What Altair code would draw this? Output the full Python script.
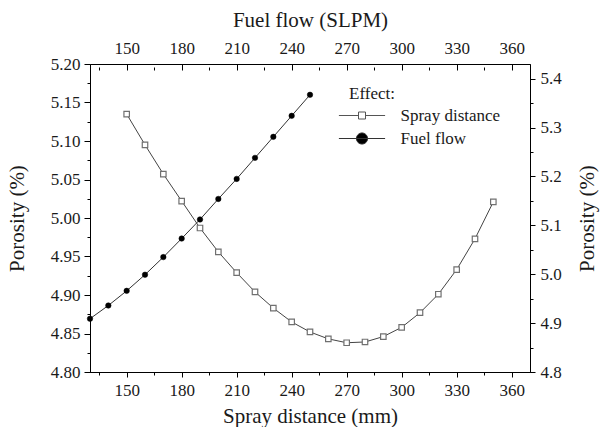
import altair as alt
import pandas as pd

# ---- data ----
spray_distance = [150, 160, 170, 180, 190, 200, 210, 220, 230, 240, 250,
                  260, 270, 280, 290, 300, 310, 320, 330, 340, 350]
spray_porosity = [5.135, 5.095, 5.057, 5.022, 4.987, 4.956, 4.929, 4.904,
                  4.883, 4.865, 4.852, 4.843, 4.838, 4.839, 4.846, 4.858,
                  4.877, 4.901, 4.933, 4.973, 5.021]

fuel_flow = [130, 140, 150, 160, 170, 180, 190, 200, 210, 220, 230, 240, 250]
fuel_porosity = [4.909, 4.936, 4.966, 4.999, 5.035, 5.073, 5.112, 5.154,
                 5.195, 5.238, 5.281, 5.324, 5.367]

series_names = ["Spray distance", "Fuel flow"]

x_ticks = [135, 150, 165, 180, 195, 210, 225, 240, 255, 270, 285, 300,
           315, 330, 345, 360]
left_ticks = [4.800, 4.825, 4.850, 4.875, 4.900, 4.925, 4.950, 4.975, 5.000,
              5.025, 5.050, 5.075, 5.100, 5.125, 5.150, 5.175, 5.200]
right_ticks = [4.80, 4.85, 4.90, 4.95, 5.00, 5.05, 5.10, 5.15, 5.20, 5.25,
               5.30, 5.35, 5.40]

spray_df = pd.DataFrame({"distance": spray_distance, "porosity": spray_porosity})
fuel_df = pd.DataFrame({"flow": fuel_flow, "porosity": fuel_porosity})
legend_df = pd.DataFrame({"series": series_names})

FONT = "Liberation Serif"
TXT = "#1a1a1a"

x_major = "datum.value % 30 === 0"
left_major = "abs(datum.value*20 - round(datum.value*20)) < 0.001"
right_major = "abs(datum.value*10 - round(datum.value*10)) < 0.001"

common_axis = dict(
    grid=False, labelFont=FONT, titleFont=FONT, labelFontSize=17,
    titleFontSize=21, titleFontWeight="normal", labelColor=TXT,
    titleColor=TXT, domainColor="black", tickColor="black",
    domainWidth=1, tickWidth=1,
)

x_bottom = alt.X(
    "distance:Q",
    scale=alt.Scale(domain=[130, 370], nice=False, zero=False),
    axis=alt.Axis(
        orient="bottom", values=x_ticks, title="Spray distance (mm)",
        labelExpr=f"{x_major} ? datum.label : ''",
        tickSize={"condition": {"test": x_major, "value": 5}, "value": 3},
        labelPadding=5, titlePadding=7, **common_axis,
    ),
)
y_left = alt.Y(
    "porosity:Q",
    scale=alt.Scale(domain=[4.8, 5.2], nice=False, zero=False),
    axis=alt.Axis(
        orient="left", values=left_ticks, title="Porosity (%)",
        labelExpr=f"{left_major} ? format(datum.value, '.2f') : ''",
        tickSize={"condition": {"test": left_major, "value": 6}, "value": 3},
        labelPadding=4, titlePadding=23, **common_axis,
    ),
)

x_top = alt.X(
    "flow:Q",
    scale=alt.Scale(domain=[130, 370], nice=False, zero=False),
    axis=alt.Axis(
        orient="top", values=x_ticks, title="Fuel flow (SLPM)", offset=-6,
        domain=False,
        labelExpr=f"{x_major} ? datum.label : ''",
        tickSize={"condition": {"test": x_major, "value": 6}, "value": 3},
        labelPadding=7, titlePadding=9, **common_axis,
    ),
)
y_right = alt.Y(
    "porosity:Q",
    scale=alt.Scale(domain=[4.8, 5.43], nice=False, zero=False),
    axis=alt.Axis(
        orient="right", values=right_ticks, title="Porosity (%)",
        titleAngle=270,
        labelExpr=f"{right_major} ? format(datum.value, '.1f') : ''",
        tickSize={"condition": {"test": right_major, "value": 5}, "value": 3},
        labelPadding=5, titlePadding=36, **common_axis,
    ),
)

spray_line = alt.Chart(spray_df).mark_line(color="#444", strokeWidth=1).encode(
    x=x_bottom, y=y_left)
spray_pts = alt.Chart(spray_df).mark_point(
    shape="square", size=30, filled=True, fill="white", stroke="#707070",
    strokeWidth=1.2, opacity=1).encode(x=x_bottom, y=y_left)
spray_layer = alt.layer(spray_line, spray_pts)

fuel_line = alt.Chart(fuel_df).mark_line(color="#333", strokeWidth=1).encode(
    x=x_top, y=y_right)
fuel_pts = alt.Chart(fuel_df).mark_point(
    shape="circle", size=30, filled=True, fill="black", stroke="black",
    strokeWidth=0.5, opacity=1).encode(x=x_top, y=y_right)
fuel_layer = alt.layer(fuel_line, fuel_pts)

# legend-only layer (no rows drawn), symbols are line + marker paths
sq_path = "M-6.6,0H-1M1,0H6.6M-1,-1H1V1H-1Z"
k = 0.884
ci_path = (f"M-6.6,0H6.6M-1.6,0C-1.6,-{k},-{k},-1.6,0,-1.6C{k},-1.6,1.6,-{k},1.6,0"
           f"C1.6,{k},{k},1.6,0,1.6C-{k},1.6,-1.6,{k},-1.6,0Z")

legend_def = alt.Legend(
    orient="none", legendX=259, legendY=22, title="Effect:",
    titleFont=FONT, titleFontSize=17, titleFontWeight="normal",
    titleColor=TXT, labelFont=FONT, labelFontSize=17, labelColor=TXT,
    symbolSize=49, symbolStrokeWidth=1, symbolOffset=4.5, labelOffset=30,
    rowPadding=5, titlePadding=4, padding=0,
)
legend_layer = alt.Chart(legend_df).transform_filter("false").mark_point(
    size=49, opacity=1, filled=True).encode(
    x=alt.value(0), y=alt.value(0),
    shape=alt.Shape("series:N", scale=alt.Scale(domain=series_names,
                    range=[sq_path, ci_path]), legend=legend_def),
    fill=alt.Fill("series:N", scale=alt.Scale(domain=series_names,
                  range=["white", "black"]), legend=legend_def),
    stroke=alt.Stroke("series:N", scale=alt.Scale(domain=series_names,
                      range=["#555", "#333"]), legend=legend_def),
)

chart = alt.layer(spray_layer, fuel_layer, legend_layer).resolve_scale(
    x="independent", y="independent"
).properties(
    width=440, height=308,
    autosize=alt.AutoSizeParams(type="none"),
    padding={"left": 90, "top": 64, "right": 71, "bottom": 55},
    background="white",
).configure_view(stroke="black", strokeWidth=1)

chart.save("out.html", embed_options={"renderer": "svg", "actions": False})
